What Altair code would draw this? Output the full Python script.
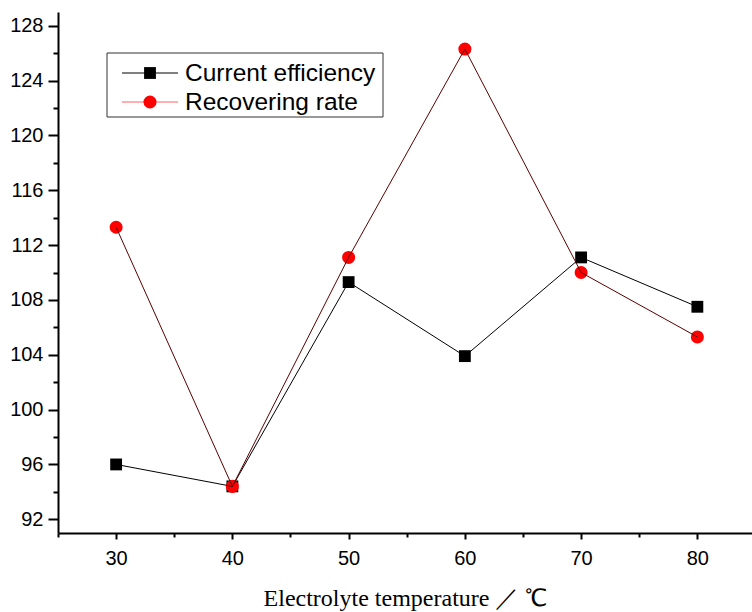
import altair as alt
import pandas as pd

temperature = [30, 40, 50, 60, 70, 80]
current_efficiency = [96.0, 94.4, 109.3, 103.9, 111.1, 107.5]
recovering_rate = [113.3, 94.4, 111.1, 126.3, 110.0, 105.3]
series_names = ["Current efficiency", "Recovering rate"]
x_tick_values = [25, 30, 35, 40, 45, 50, 55, 60, 65, 70, 75, 80]
y_tick_values = list(range(92, 129, 2))

rows = []
for t, ce, rr in zip(temperature, current_efficiency, recovering_rate):
    rows.append({"temperature": t, "value": ce, "series": series_names[0]})
    rows.append({"temperature": t, "value": rr, "series": series_names[1]})
df = pd.DataFrame(rows)

PAD_L, PAD_T = 58, 12

x_enc = alt.X(
    "temperature:Q",
    scale=alt.Scale(domain=[25, 84.7], nice=False, zero=False),
    axis=alt.Axis(
        values=x_tick_values,
        labelExpr="datum.value % 10 === 0 ? datum.label : ''",
        tickSize={"condition": {"test": "datum.value % 10 === 0", "value": 6}, "value": 4},
        title="Electrolyte temperature ／ ℃",
        titleFont="Liberation Serif",
        titleFontSize=24,
        titleFontWeight="normal",
        titlePadding=18,
        labelFontSize=20,
        labelPadding=9,
    ),
)
y_enc = alt.Y(
    "value:Q",
    scale=alt.Scale(domain=[91, 129], nice=False, zero=False),
    axis=alt.Axis(
        values=y_tick_values,
        labelExpr="datum.value % 4 === 0 ? datum.label : ''",
        tickSize={"condition": {"test": "datum.value % 4 === 0", "value": 10}, "value": 5},
        title=None,
        labelFontSize=20,
        labelPadding=5,
    ),
)

base = alt.Chart(df).encode(x=x_enc, y=y_enc)

pts_black = base.transform_filter(alt.datum.series == series_names[0]).mark_point(
    shape="square", filled=True, color="black", size=140, opacity=1)
pts_red = base.transform_filter(alt.datum.series == series_names[1]).mark_point(
    shape="circle", filled=True, color="#ff0000", size=170, opacity=1)
line_black = base.transform_filter(alt.datum.series == series_names[0]).mark_line(
    color="black", strokeWidth=1)
line_red = base.transform_filter(alt.datum.series == series_names[1]).mark_line(
    color="#5a0000", strokeWidth=1)

# legend (drawn manually to show line + marker)
leg = alt.Chart(pd.DataFrame({"name": series_names}))
box = alt.Chart(pd.DataFrame({"a": [0]})).mark_rect(
    fill="white", stroke="#333333", strokeWidth=1).encode(
    x=alt.value(107 - PAD_L), x2=alt.value(383 - PAD_L),
    y=alt.value(53 - PAD_T), y2=alt.value(117 - PAD_T))

legend_layers = [box]
row_y = [73, 102]
line_cols = ["black", "#ff6060"]
marker_shapes = ["square", "circle"]
marker_cols = ["black", "#ff0000"]
marker_sizes = [140, 170]
for i, name in enumerate(series_names):
    sub = leg.transform_filter(alt.datum.name == name)
    yy = row_y[i] - PAD_T
    legend_layers.append(sub.mark_rule(color=line_cols[i], strokeWidth=1).encode(
        x=alt.value(122 - PAD_L), x2=alt.value(178 - PAD_L), y=alt.value(yy)))
    legend_layers.append(sub.mark_point(shape=marker_shapes[i], filled=True,
                                        color=marker_cols[i], size=marker_sizes[i], opacity=1).encode(
        x=alt.value(150 - PAD_L), y=alt.value(yy)))
    legend_layers.append(sub.mark_text(align="left", baseline="middle", font="Liberation Sans",
                                       fontSize=24.5, color="black").encode(
        x=alt.value(185 - PAD_L), y=alt.value(yy + 1), text="name:N"))

chart = alt.layer(pts_black, pts_red, line_black, line_red, *legend_layers).properties(
    width=694, height=521,
    autosize=alt.AutoSizeParams(type="none"),
    padding={"left": PAD_L, "top": PAD_T, "right": 0, "bottom": 79},
).configure_view(stroke=None).configure_axis(
    grid=False,
    domainColor="black", domainWidth=2,
    tickColor="black", tickWidth=2,
    labelColor="black", labelFont="Liberation Sans",
    titleColor="black",
)

chart.save("out.html", embed_options={"renderer": "svg", "actions": False})
